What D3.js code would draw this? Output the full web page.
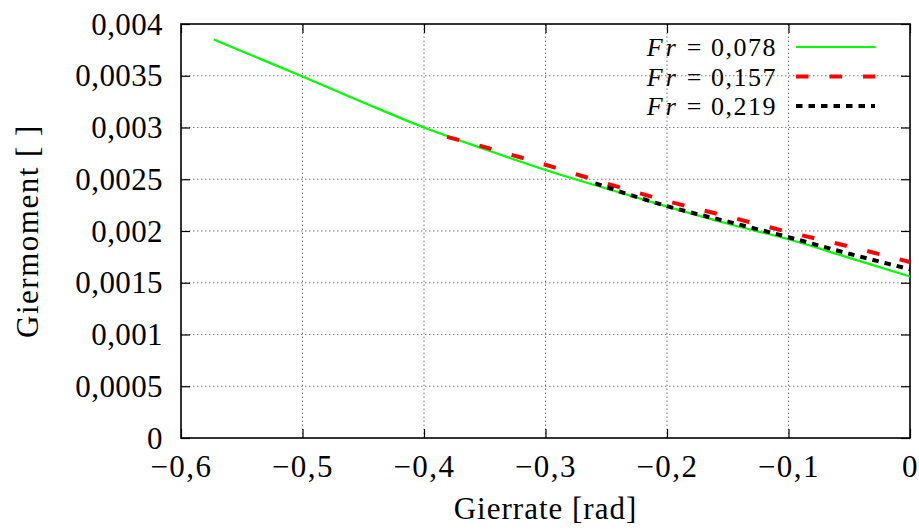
<!DOCTYPE html>
<html>
<head>
<meta charset="utf-8">
<script src="https://cdn.jsdelivr.net/npm/d3@7"></script>
<style>
  body { margin: 0; background: #fff; }
  text { font-family: "Liberation Serif", "DejaVu Serif", serif; fill: #000; }
</style>
</head>
<body>
<div id="graph"></div>
<script>
const width = 919,
  height = 530;

const margin = { top: 24, right: 9, bottom: 92, left: 181 };

// data
const xTicks = [-0.6, -0.5, -0.4, -0.3, -0.2, -0.1, 0];
const xTickLabels = ["−0,6", "−0,5", "−0,4", "−0,3", "−0,2", "−0,1", "0"];
const yTicks = [0, 0.0005, 0.001, 0.0015, 0.002, 0.0025, 0.003, 0.0035, 0.004];
const yTickLabels = ["0", "0,0005", "0,001", "0,0015", "0,002", "0,0025", "0,003", "0,0035", "0,004"];

const seriesNames = ["0,078", "0,157", "0,219"];
const seriesColors = ["#00ff00", "#ff0000", "#000000"];

const rate078 = [-0.573, -0.55, -0.5, -0.45, -0.4, -0.35, -0.3, -0.25, -0.2, -0.15, -0.1, -0.05, 0];
const moment078 = [0.00385, 0.003737, 0.003492, 0.003242, 0.00300, 0.00279, 0.00259, 0.00241, 0.002235, 0.00207, 0.00192, 0.00174, 0.00156];

const rate157 = [-0.381, -0.35, -0.3, -0.25, -0.2, -0.15, -0.1, -0.05, 0];
const moment157 = [0.00291, 0.00281, 0.00264, 0.00246, 0.00229, 0.00214, 0.00199, 0.00185, 0.00170];

const rate219 = [-0.259, -0.2, -0.15, -0.1, -0.05, 0];
const moment219 = [0.00246, 0.00224, 0.00209, 0.00194, 0.00178, 0.00163];

const series = [
  { name: seriesNames[0], color: seriesColors[0], width: 2.2, dash: null, values: rate078.map((r, i) => [r, moment078[i]]) },
  { name: seriesNames[1], color: seriesColors[1], width: 4, dash: "12.5,21", values: rate157.map((r, i) => [r, moment157[i]]) },
  { name: seriesNames[2], color: seriesColors[2], width: 4, dash: "6.5,6", values: rate219.map((r, i) => [r, moment219[i]]) }
];

const svg = d3.select("#graph").append("svg")
  .attr("width", width)
  .attr("height", height);

const x = d3.scaleLinear().domain([-0.6, 0]).range([margin.left, width - margin.right]);
const y = d3.scaleLinear().domain([0, 0.004]).range([height - margin.bottom, margin.top]);

const fontSize = 31;

// grid
const grid = svg.append("g")
  .attr("stroke", "#7a7a7a")
  .attr("stroke-width", 1)
  .attr("stroke-dasharray", "1.5,2.5");

grid.selectAll(".gx")
  .data(xTicks.slice(1, -1))
  .join("line")
  .attr("x1", d => x(d)).attr("x2", d => x(d))
  .attr("y1", y(0)).attr("y2", y(0.004));

grid.selectAll(".gy")
  .data(yTicks.slice(1, -1))
  .join("line")
  .attr("x1", x(-0.6)).attr("x2", x(0))
  .attr("y1", d => y(d)).attr("y2", d => y(d));

// axes with inward ticks on all four sides
const tickLen = 9;
const axisG = svg.append("g");

axisG.append("g")
  .attr("transform", `translate(0,${y(0)})`)
  .call(d3.axisBottom(x).tickValues(xTicks).tickSizeInner(-tickLen).tickSizeOuter(0).tickFormat((d, i) => xTickLabels[i]))
  .call(g => g.select(".domain").remove())
  .call(g => g.selectAll("text").attr("font-size", fontSize).attr("font-family", "Liberation Serif")
    .attr("letter-spacing", 1.5).attr("dy", 0).attr("y", 39));

axisG.append("g")
  .attr("transform", `translate(0,${y(0.004)})`)
  .call(d3.axisTop(x).tickValues(xTicks).tickSizeInner(-tickLen).tickSizeOuter(0).tickFormat(""))
  .call(g => g.select(".domain").remove());

axisG.append("g")
  .attr("transform", `translate(${x(-0.6)},0)`)
  .call(d3.axisLeft(y).tickValues(yTicks).tickSizeInner(-tickLen).tickSizeOuter(0).tickFormat((d, i) => yTickLabels[i]))
  .call(g => g.select(".domain").remove())
  .call(g => g.selectAll("text").attr("font-size", fontSize).attr("font-family", "Liberation Serif")
    .attr("letter-spacing", 0.4).attr("dy", 0).attr("y", 10).attr("x", -18));

axisG.append("g")
  .attr("transform", `translate(${x(0)},0)`)
  .call(d3.axisRight(y).tickValues(yTicks).tickSizeInner(-tickLen).tickSizeOuter(0).tickFormat(""))
  .call(g => g.select(".domain").remove());

axisG.selectAll(".tick line").attr("stroke", "#000").attr("stroke-width", 1.2);

// frame
svg.append("rect")
  .attr("x", x(-0.6)).attr("y", y(0.004))
  .attr("width", x(0) - x(-0.6)).attr("height", y(0) - y(0.004))
  .attr("fill", "none").attr("stroke", "#000").attr("stroke-width", 1.6);

// lines
const line = d3.line()
  .x(d => x(d[0]))
  .y(d => y(d[1]))
  .curve(d3.curveMonotoneX);

svg.append("g")
  .selectAll("path")
  .data(series)
  .join("path")
  .attr("d", d => line(d.values))
  .attr("fill", "none")
  .attr("stroke", d => d.color)
  .attr("stroke-width", d => d.width)
  .attr("stroke-dasharray", d => d.dash);

// legend
const legend = svg.append("g")
  .selectAll("g")
  .data(series)
  .join("g")
  .attr("transform", (d, i) => `translate(0,${47 + i * 29.5})`);

legend.append("line")
  .attr("x1", 796).attr("x2", 875)
  .attr("y1", 0).attr("y2", 0)
  .attr("stroke", d => d.color)
  .attr("stroke-width", d => d.width)
  .attr("stroke-dasharray", d => d.dash);

const lt = legend.append("text")
  .attr("x", 777)
  .attr("y", 9)
  .attr("text-anchor", "end")
  .attr("font-size", 26)
  .attr("letter-spacing", 1.5);
lt.append("tspan").attr("font-style", "italic").attr("letter-spacing", 3).text("Fr");
lt.append("tspan").text(d => "  =  " + d.name);

// axis titles
svg.append("text")
  .attr("x", x(-0.3))
  .attr("y", 519)
  .attr("text-anchor", "middle")
  .attr("font-size", fontSize)
  .attr("letter-spacing", 1)
  .text("Gierrate [rad]");

svg.append("text")
  .attr("transform", `translate(38,${y(0.002)}) rotate(-90)`)
  .attr("text-anchor", "middle")
  .attr("font-size", fontSize)
  .attr("letter-spacing", 1.5)
  .style("white-space", "pre")
  .text("Giermoment [ ]");
</script>
</body>
</html>
